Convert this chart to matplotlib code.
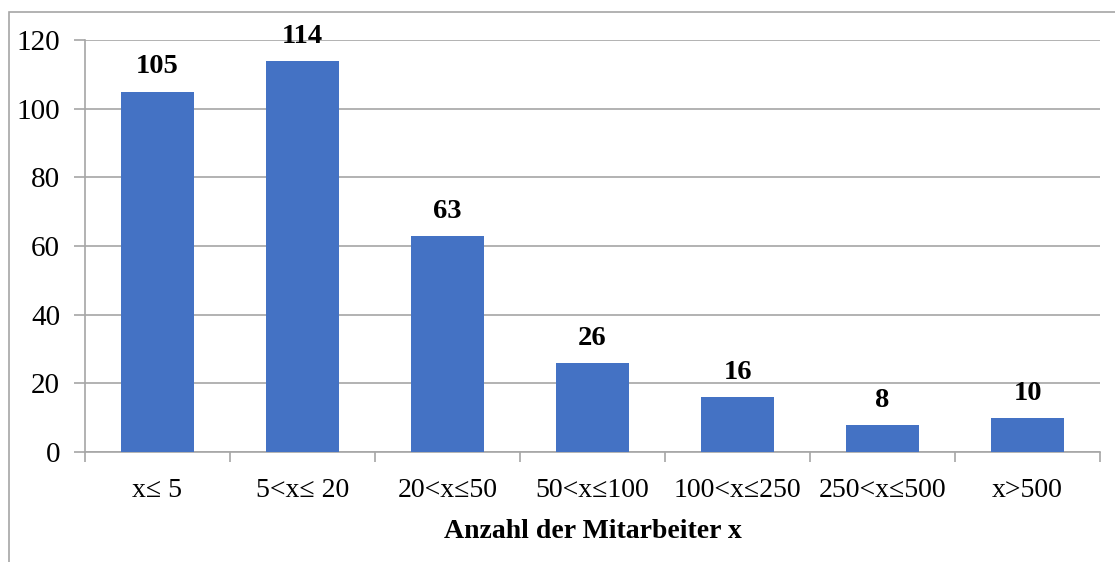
import matplotlib.pyplot as plt
from matplotlib.patches import Rectangle

plt.rcParams['font.family'] = ['Liberation Serif', 'DejaVu Serif']

categories = ['x≤ 5', '5<x≤ 20', '20<x≤50', '50<x≤100', '100<x≤250', '250<x≤500', 'x>500']
values = [105, 114, 63, 26, 16, 8, 10]

fig = plt.figure(figsize=(11.15, 5.62), dpi=100)
ax = fig.add_axes([85 / 1115, 1 - 452 / 562, (1100 - 85) / 1115, (452 - 40) / 562])

# outer frame of the chart area
fig.patches.append(Rectangle((8.5 / 1115, -0.1), 1.2, 1 - 12 / 562 + 0.1, transform=fig.transFigure,
                             fill=False, edgecolor='#A6A6A6', linewidth=1.2))

x = range(len(categories))
bars = ax.bar(x, values, width=0.5, color='#4472C4', zorder=3)
for i, v in enumerate(values):
    ax.text(i, v + 3.5, str(v), ha='center', va='bottom', fontsize=20.5, fontweight='bold')

ax.set_xlim(-0.5, len(categories) - 0.5)
ax.set_ylim(0, 120)
ax.set_yticks(range(0, 121, 20))
ax.yaxis.grid(True, color='#A6A6A6', linewidth=1.2, zorder=0)
ax.set_axisbelow(True)

ax.set_xticks([i - 0.5 for i in range(len(categories) + 1)])
ax.set_xticklabels([])
ax.set_xticks(list(x), minor=True)
ax.set_xticklabels(categories, minor=True, fontsize=20)
ax.tick_params(axis='x', which='minor', length=0, pad=19)
ax.tick_params(axis='x', which='major', length=7, color='#A6A6A6', width=1.2)
ax.tick_params(axis='y', length=8, color='#A6A6A6', width=1.2, labelsize=21, pad=10)

for s in ['top', 'right']:
    ax.spines[s].set_visible(False)
for s in ['left', 'bottom']:
    ax.spines[s].set_color('#A6A6A6')
    ax.spines[s].set_linewidth(1.2)

ax.set_xlabel('Anzahl der Mitarbeiter x', fontsize=20, fontweight='bold', labelpad=11)

fig.savefig('out.png', dpi=100)
